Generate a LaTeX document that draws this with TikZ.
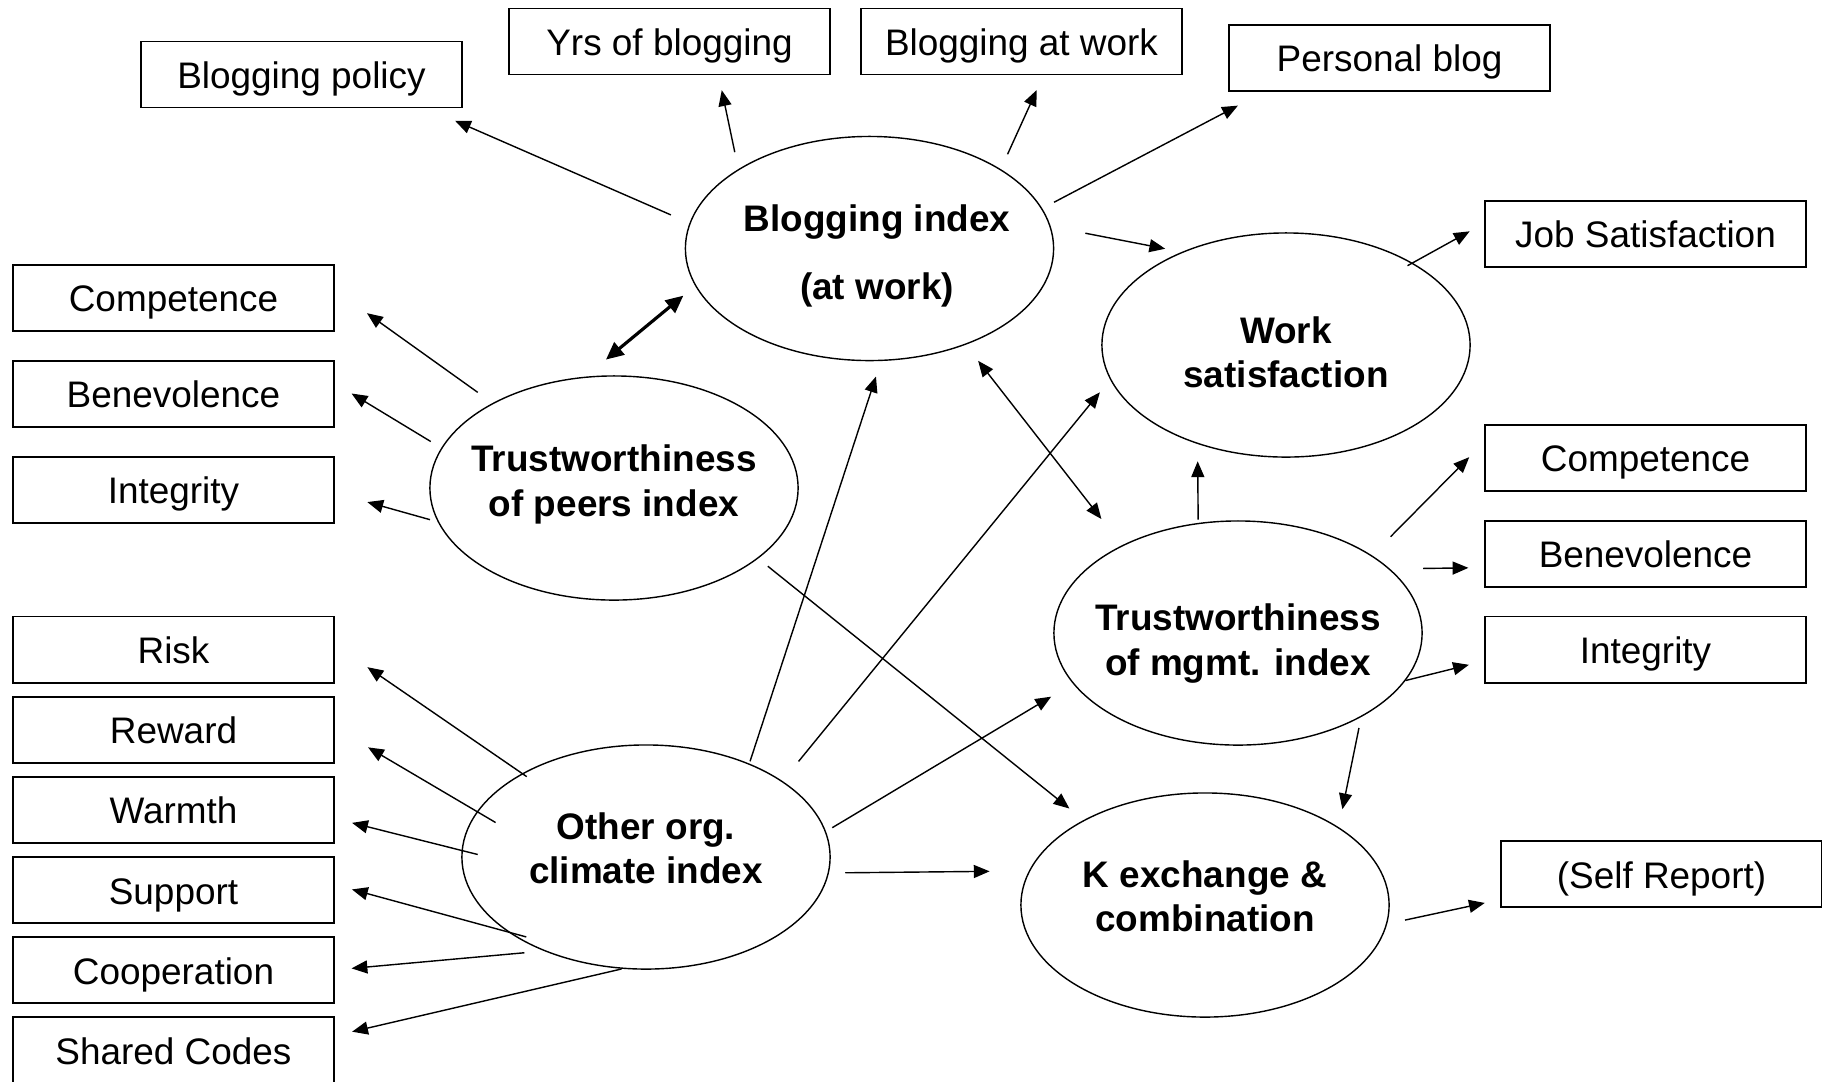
\documentclass[tikz,border=0pt]{standalone}
\usepackage{fontspec}
\setmainfont{Liberation Sans}
\usetikzlibrary{arrows.meta,shapes.geometric}

\begin{document}
\begin{tikzpicture}[x=0.01cm, y=-0.01cm,
        every node/.append style={font=\fontsize{10.5}{12.6}\selectfont},
        box/.style={draw, line width=0.55pt, minimum width=3.2cm, minimum height=0.66cm, inner sep=0pt, outer sep=0pt, text height=8pt, text depth=0pt},
        ell/.style={draw, ellipse, line width=0.4pt, minimum width=3.68cm, minimum height=2.24cm, inner sep=0pt, outer sep=0pt},
        idx/.style={align=center, font=\fontsize{10.5}{12.6}\selectfont\bfseries},
        arr/.style={-{Triangle[length=4.5pt,width=3.7pt]}, line width=0.4pt},
        dbl/.style={{Triangle[length=4.5pt,width=3.7pt]}-{Triangle[length=4.5pt,width=3.7pt]}, line width=0.4pt}]
        \useasboundingbox (0,0) rectangle (1822,1081);

        \node[ell] (bi) at (869.5,248.5) {};
        \node[ell] (ws) at (1286,345) {};
        \node[ell] (tp) at (614,488) {};
        \node[ell] (tm) at (1238,633) {};
        \node[ell] (oc) at (646,857) {};
        \node[ell] (kx) at (1205,905) {};
        \node[idx] (bit) at (877,256) {Blogging index\\[6.6pt](at work)};
        \node[idx] (wst) at (1286,352) {Work\\satisfaction};
        \node[idx] (tpt) at (614,484.5) {Trustworthiness\\of peers index};
        \node[idx] (tmt) at (1238,643.5) {Trustworthiness\\of mgmt. index};
        \node[idx] (oct) at (646,848) {Other org.\\climate index};
        \node[idx] (kxt) at (1205,896) {K exchange \&\\combination};

        \node[box] (pol) at (301.5,74.5) {Blogging policy};
        \node[box] (yrs) at (669.5,41.5) {Yrs of blogging};
        \node[box] (baw) at (1021.5,41.5) {Blogging at work};
        \node[box] (pb) at (1389.5,57.7) {Personal blog};
        \node[box] (js) at (1645.5,233.8) {Job Satisfaction};
        \node[box] (c1) at (173.5,297.7) {Competence};
        \node[box] (b1) at (173.5,393.8) {Benevolence};
        \node[box] (i1) at (173.5,489.8) {Integrity};
        \node[box] (rsk) at (173.5,649.5) {Risk};
        \node[box] (rwd) at (173.5,729.8) {Reward};
        \node[box] (wrm) at (173.5,809.8) {Warmth};
        \node[box] (sup) at (173.5,890) {Support};
        \node[box] (coop) at (173.5,970) {Cooperation};
        \node[box] (sc) at (173.5,1050) {Shared Codes};
        \node[box] (c2) at (1645.5,457.6) {Competence};
        \node[box] (b2) at (1645.5,553.6) {Benevolence};
        \node[box] (i2) at (1645.5,649.5) {Integrity};
        \node[box] (sr) at (1661.5,874) {(Self Report)};

        \draw[arr, shorten <=2.1mm, shorten >=3.3mm] (bi.172.7) -- (pol.-15.9);
        \draw[arr, shorten <=1.8mm, shorten >=1.6mm] (bi.149.3) -- (yrs.-34.7);
        \draw[arr, shorten <=1.7mm, shorten >=1.7mm] (bi.31.9) -- (baw.-56.4);
        \draw[arr, shorten <=1.4mm, shorten >=3.2mm] (bi.13.6) -- (pb.195.9);
        \draw[arr, shorten <=3.6mm, shorten >=1.8mm] (bi.7.2) -- (ws.138.2);
        \draw[arr, shorten <=-0.5mm, shorten >=1.8mm] (ws.33.6) -- (js.176.8);
        \draw[{Triangle[length=5pt,width=4.5pt]}-{Triangle[length=5pt,width=4.5pt]}, line width=0.9pt, shorten <=1.6mm, shorten >=2.8mm] (bi.192.9) -- (tp.105.1);
        \draw[dbl, shorten <=2.1mm, shorten >=3.4mm] (bi.-45.7) -- (tm.143);

        \draw[arr, shorten <=1.9mm, shorten >=4.1mm] (tp.145) -- (c1.3.1);
        \draw[arr, shorten <=1.3mm, shorten >=2.1mm] (tp.167.1) -- (b1.4.5);
        \draw[arr, shorten <=0.9mm, shorten >=3.5mm] (tp.191.4) -- (i1.-1.4);
        \draw[arr, shorten <=1.3mm, shorten >=1.9mm] (tp.-26.9) -- (kx.145.1);

        \draw[arr, shorten <=0.3mm, shorten >=1.7mm] (oc.42.2) -- (bi.276.5);
        \draw[arr, shorten <=2.6mm, shorten >=1.7mm] (oc.29.4) -- (ws.191.6);
        \draw[arr, shorten <=0.8mm, shorten >=2.6mm] (oc.8.9) -- (tm.197.8);
        \draw[arr, shorten <=1.7mm, shorten >=4.0mm] (oc.-5) -- (kx.169.7);
        \draw[arr, shorten <=-0.5mm, shorten >=4.1mm] (oc.146.4) -- (rsk.2.5);
        \draw[arr, shorten <=-2.1mm, shorten >=4.0mm] (oc.165.8) -- (rwd.1.6);
        \draw[arr, shorten <=-1.6mm, shorten >=1.9mm] (oc.178.7) -- (wrm.-3.7);
        \draw[arr, shorten <=-1.7mm, shorten >=1.9mm] (oc.209) -- (sup.2.3);
        \draw[arr, shorten <=2.1mm, shorten >=1.8mm] (oc.223.4) -- (coop.0.2);
        \draw[arr, shorten <=0.3mm, shorten >=1.9mm] (oc.259.2) -- (sc.5);

        \draw[arr, shorten <=0.4mm, shorten >=1.8mm] (tm.110.3) -- (ws.228);
        \draw[arr, shorten <=2.7mm, shorten >=2.3mm] (tm.30.9) -- (c2.174.4);
        \draw[arr, shorten <=3.4mm, shorten >=1.7mm] (tm.23.2) -- (b2.185.4);
        \draw[arr, shorten <=0.1mm, shorten >=1.7mm] (tm.-16.2) -- (i2.184.1);
        \draw[arr, shorten <=1.2mm, shorten >=1.9mm] (tm.-34.1) -- (kx.30.6);
        \draw[arr, shorten <=1.9mm, shorten >=1.7mm] (kx.-6.1) -- (sr.189.4);
    \end{tikzpicture}
\end{document}
